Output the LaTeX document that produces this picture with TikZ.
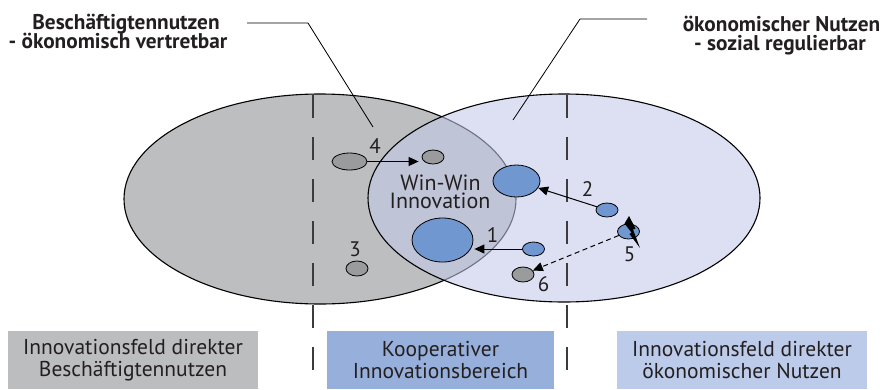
\documentclass[tikz,border=0pt]{standalone}
\usepackage{fontspec}
\setmainfont{PT Sans}
\usetikzlibrary{shapes.geometric,arrows.meta}
\definecolor{ellgray}{RGB}{189,190,192}
\definecolor{ellblue}{RGB}{194,201,232}
\definecolor{dotgray}{RGB}{154,155,157}
\definecolor{dotblue}{RGB}{112,151,207}
\definecolor{boxgray}{RGB}{188,189,191}
\definecolor{boxblue}{RGB}{151,175,219}
\definecolor{boxlight}{RGB}{188,203,234}
\definecolor{txt}{RGB}{35,31,32}
\definecolor{dashcol}{RGB}{60,60,60}
\begin{document}
\begin{tikzpicture}[x=1pt,y=-1pt,
  dot/.style={ellipse,draw=black,line width=0.8pt,inner sep=0pt},
  gdot/.style={dot,fill=dotgray},
  bdot/.style={dot,fill=dotblue},
  num/.style={inner sep=0pt,text=txt,font=\fontsize{21}{21}\selectfont},
  arr/.style={-{Triangle[length=10pt,width=9pt]},line width=1pt},
  divider/.style={draw=dashcol,line width=1.3pt,dash pattern=on 23pt off 19pt},
  boxlabel/.style={minimum width=250pt,minimum height=58pt,inner sep=0pt,align=center,text=txt,font=\fontsize{21.5}{22}\selectfont},
  toplabel/.style={anchor=base,inner sep=0pt,text=txt,font=\bfseries\fontsize{21.3}{21}\selectfont},
  wwlabel/.style={anchor=base,inner sep=0pt,text=txt,font=\fontsize{22}{22}\selectfont},
  leader/.style={draw=black,line width=0.8pt}
]
\useasboundingbox (0,0) rectangle (891,389);
% big fields
\draw[fill=ellgray,line width=1.1pt] (320,199) ellipse [x radius=196pt,y radius=105pt];
\draw[fill=ellblue,fill opacity=0.57,line width=1.1pt] (564,198) ellipse [x radius=196pt,y radius=104pt];
% dividers
\draw[divider] (313,95) -- (313,371);
\draw[divider] (567,95) -- (567,371);
% boxes
\node[boxlabel,fill=boxgray] (b1) at (133,360) {Innovationsfeld direkter\\Beschäftigtennutzen};
\node[boxlabel,fill=boxblue,minimum width=227pt] (b2) at (440.5,360) {Kooperativer\\Innovationsbereich};
\node[boxlabel,fill=boxlight] (b3) at (742,360) {Innovationsfeld direkter\\ökonomischer Nutzen};
% top labels
\node[toplabel] (labL1) at (126,29.5) {Beschäftigtennutzen};
\node[toplabel] (labL2) at (118,48.7) {- ökonomisch vertretbar};
\node[toplabel] (labR1) at (781.5,31.7) {ökonomischer Nutzen};
\node[toplabel] (labR2) at (780,50) {- sozial regulierbar};
\coordinate (lL1) at (247,23);
\coordinate (lL2) at (308,23);
\coordinate (lL3) at (373,127);
\coordinate (lR1) at (647,19);
\coordinate (lR2) at (580,19);
\coordinate (lR3) at (513,120);
\draw[leader] (lL1) -- (lL2) -- (lL3);
\draw[leader] (lR1) -- (lR2) -- (lR3);
% win-win
\node[wwlabel] (ww1) at (440.5,190) {Win-Win};
\node[wwlabel] (ww2) at (440,208) {Innovation};
% small ellipses
\node[gdot,minimum width=35pt,minimum height=17pt] (n4a) at (349.5,161.5) {};
\node[gdot,minimum width=22pt,minimum height=14pt] (n4b) at (433,157) {};
\node[bdot,minimum width=47pt,minimum height=32pt] (n2b) at (516.5,181) {};
\node[bdot,minimum width=22pt,minimum height=14pt] (n2s) at (607,210) {};
\node[bdot,minimum width=61pt,minimum height=44pt] (n1b) at (442.5,240) {};
\node[bdot,minimum width=22pt,minimum height=14pt] (n1s) at (533.5,249) {};
\node[gdot,minimum width=22pt,minimum height=15pt] (n3) at (357,268.5) {};
\node[bdot,minimum width=22pt,minimum height=15pt] (n5) at (628.5,231.5) {};
\node[gdot,minimum width=22pt,minimum height=15pt] (n6) at (523,274.5) {};
% arrows
\draw[arr,shorten >=3pt] (n4a.east) -- (n4a.east -| n4b.west);
\draw[arr] (n2s) -- (n2b);
\draw[arr,shorten >=1pt] (n1s.west) -- (n1s.west -| n1b.east);
\draw[arr,dash pattern=on 5pt off 3.5pt] (n5) -- (n6);
% lightning
\fill[black] (629,216) -- (635.5,228.5) -- (633,229.5) -- (640,248) -- (629.5,234) -- (631.5,232.5) -- (624.5,223.5) -- cycle;
% numbers
\node[num] (t1) at (492.5,235.5) {1};
\node[num] (t2) at (587.5,189.5) {2};
\node[num] (t3) at (355,249.5) {3};
\node[num] (t4) at (375,146.5) {4};
\node[num] (t5) at (629.5,254) {5};
\node[num] (t6) at (543.5,284.5) {6};
\end{tikzpicture}
\end{document}
